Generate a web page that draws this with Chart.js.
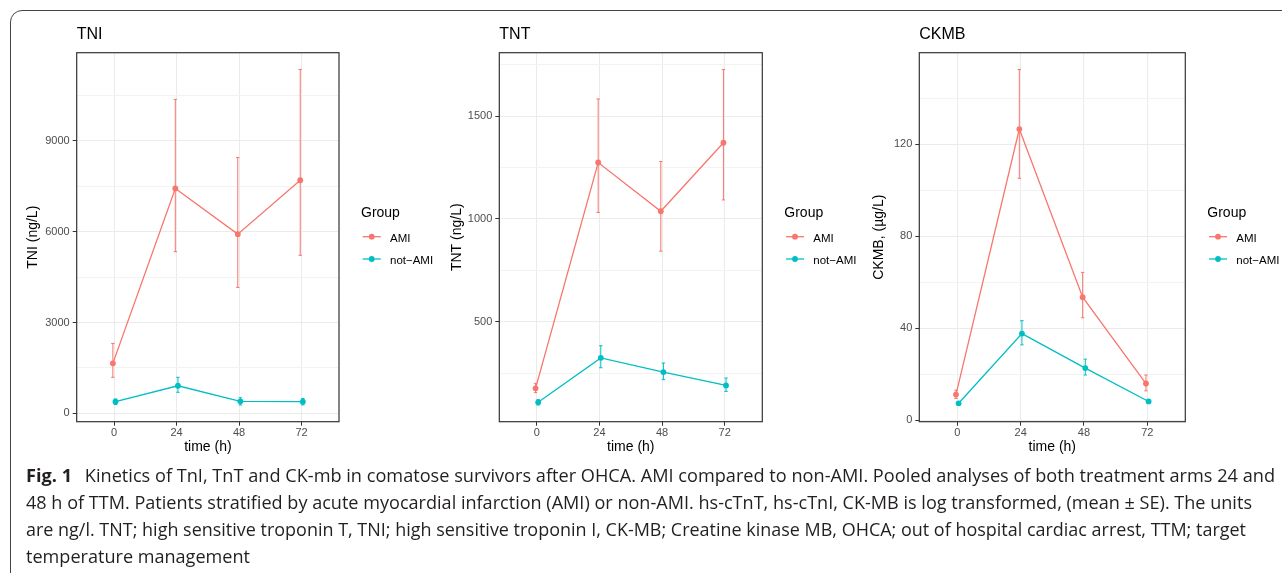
<!DOCTYPE html>
<html>
<head>
<meta charset="utf-8">
<script src="https://cdn.jsdelivr.net/npm/chart.js@4.4.1/dist/chart.umd.min.js"></script>
<style>
  html, body { margin: 0; padding: 0; background: #fff; width: 1282px; height: 573px; overflow: hidden; position: relative; }
  .frame { position: absolute; left: 10px; top: 10px; width: 1300px; height: 620px; border: 1px solid #444; border-radius: 12px; }
  canvas { position: absolute; top: 15px; }
  .caption { position: absolute; left: 26px; top: 462px; font-family: "Open Sans", "Noto Sans", sans-serif; font-size: 18px; line-height: 27px; color: #231f20; }
  .caption div { white-space: nowrap; transform-origin: 0 0; width: max-content; }
  .caption b { font-weight: 700; margin-right: 8px; }
</style>
</head>
<body>
<div class="frame"></div>
<canvas id="tni" width="420" height="450" style="left:15px"></canvas>
<canvas id="tnt" width="420" height="450" style="left:440px"></canvas>
<canvas id="ckmb" width="422" height="450" style="left:860px"></canvas>

<div class="caption">
  <div data-w="1249"><b>Fig. 1</b> Kinetics of TnI, TnT and CK-mb in comatose survivors after OHCA. AMI compared to non-AMI. Pooled analyses of both treatment arms 24 and</div>
  <div data-w="1226">48 h of TTM. Patients stratified by acute myocardial infarction (AMI) or non-AMI. hs-cTnT, hs-cTnI, CK-MB is log transformed, (mean ± SE). The units</div>
  <div data-w="1220">are ng/l. TNT; high sensitive troponin T, TNI; high sensitive troponin I, CK-MB; Creatine kinase MB, OHCA; out of hospital cardiac arrest, TTM; target</div>
  <div data-w="224">temperature management</div>
</div>

<script>
// time points and groups
const times = [0, 24, 48, 72];
const groups = ['AMI', 'not\u2212AMI'];

// TNI (ng/L), mean and error bar ends
const tniAmi   = [1650, 7430, 5920, 7700];
const tniAmiLo = [1190, 5340, 4160, 5220];
const tniAmiHi = [2310, 10370, 8450, 11360];
const tniNot   = [383, 910, 395, 383];
const tniNotLo = [290, 694, 275, 277];
const tniNotHi = [475, 1190, 515, 490];

// TNT (ng/L)
const tntAmi   = [176, 1274, 1037, 1370];
const tntAmiLo = [155, 1031, 843, 1092];
const tntAmiHi = [200, 1583, 1279, 1726];
const tntNot   = [108, 324, 255, 190];
const tntNotLo = [95, 276, 218, 161];
const tntNotHi = [121, 383, 299, 226];

// CKMB (ug/L)
const ckmbAmi   = [11.1, 126.5, 53.4, 15.9];
const ckmbAmiLo = [9.4, 105.1, 44.5, 12.7];
const ckmbAmiHi = [13.0, 152.4, 64.2, 19.6];
const ckmbNot   = [7.3, 37.6, 22.6, 8.1];
const ckmbNotLo = [6.6, 32.7, 19.6, 7.4];
const ckmbNotHi = [8.0, 43.2, 26.5, 8.8];

// tick labels
const xTicks = [0, 24, 48, 72];
const tniTicks = [0, 3000, 6000, 9000];
const tniMinor = [1500, 4500, 7500, 10500];
const tntTicks = [500, 1000, 1500];
const tntMinor = [250, 750, 1250, 1750];
const ckmbTicks = [0, 40, 80, 120];
const ckmbMinor = [20, 60, 100, 140];

const amiColor = '#F8766D';
const notColor = '#00BFC4';
const dodge = 0.5;
const fam = '"Liberation Sans", Arial, Helvetica, sans-serif';

const ggPanel = {
  id: 'ggPanel',
  beforeDatasetsDraw(chart) {
    const ctx = chart.ctx;
    const y = chart.scales.y;
    chart.data.datasets.forEach((ds, di) => {
      const meta = chart.getDatasetMeta(di);
      ctx.save();
      ctx.strokeStyle = ds.borderColor;
      ctx.lineWidth = 1;
      meta.data.forEach((pt, i) => {
        const top = y.getPixelForValue(ds.hi[i]);
        const bot = y.getPixelForValue(ds.lo[i]);
        ctx.beginPath();
        ctx.moveTo(pt.x, top); ctx.lineTo(pt.x, bot);
        ctx.moveTo(pt.x - 1.7, top); ctx.lineTo(pt.x + 1.7, top);
        ctx.moveTo(pt.x - 1.7, bot); ctx.lineTo(pt.x + 1.7, bot);
        ctx.stroke();
      });
      ctx.restore();
    });
  },
  afterDraw(chart, args, opts) {
    const ctx = chart.ctx;
    const a = chart.chartArea;
    ctx.save();
    ctx.strokeStyle = '#333333';
    ctx.lineWidth = 1.2;
    ctx.strokeRect(a.left, a.top, a.right - a.left, a.bottom - a.top);

    ctx.fillStyle = '#000';
    ctx.textAlign = 'left';
    ctx.textBaseline = 'alphabetic';
    ctx.font = '16px ' + fam;
    ctx.fillText(opts.title, a.left, a.top - 13.4);

    // legend
    const cy = (a.top + a.bottom) / 2;
    ctx.font = '14px ' + fam;
    ctx.fillText('Group', a.right + 22, cy - 20);
    ctx.font = '11.5px ' + fam;
    chart.data.datasets.forEach((ds, i) => {
      const ly = cy - 0.5 + i * 22.3;
      ctx.strokeStyle = ds.borderColor;
      ctx.lineWidth = 1.3;
      ctx.beginPath();
      ctx.moveTo(a.right + 23.7, ly); ctx.lineTo(a.right + 41.7, ly);
      ctx.stroke();
      ctx.fillStyle = ds.borderColor;
      ctx.beginPath();
      ctx.arc(a.right + 32.7, ly, 2.9, 0, Math.PI * 2);
      ctx.fill();
      ctx.fillStyle = '#000';
      ctx.fillText(ds.label, a.right + 51, ly + 4.8);
    });
    ctx.restore();
  }
};

function series(label, color, vals, lo, hi, shift) {
  return {
    label: label,
    data: times.map((t, i) => ({x: t + shift, y: vals[i]})),
    lo: lo,
    hi: hi,
    borderColor: color,
    backgroundColor: color,
    borderWidth: 1.3,
    pointRadius: 2.9,
    pointBorderWidth: 0,
    pointBackgroundColor: color,
    tension: 0,
    fill: false
  };
}

function makePanel(id, p) {
  const all = p.major.concat(p.minor).sort((a, b) => a - b);
  new Chart(document.getElementById(id), {
    type: 'line',
    data: {
      datasets: [
        series(groups[0], amiColor, p.ami, p.amiLo, p.amiHi, -dodge),
        series(groups[1], notColor, p.not, p.notLo, p.notHi, dodge)
      ]
    },
    options: {
      responsive: false,
      animation: false,
      layout: { padding: { top: 37.7, right: p.padRight, left: 0, bottom: 0 } },
      plugins: {
        legend: { display: false },
        tooltip: { enabled: false },
        ggPanel: { title: p.title }
      },
      scales: {
        x: {
          type: 'linear',
          min: -14.4,
          max: 86.4,
          afterBuildTicks: s => { s.ticks = xTicks.map(v => ({value: v})); },
          afterFit: s => { s.height = 43.3; },
          border: { display: false },
          grid: { color: '#EBEBEB', tickColor: '#333333', tickLength: 4, lineWidth: 1 },
          ticks: { color: '#4D4D4D', font: { size: 11, family: fam }, padding: 1, maxRotation: 0, autoSkip: false },
          title: { display: true, text: 'time (h)', color: '#000', font: { size: 14, family: fam }, padding: { top: 0, bottom: 9.6 } }
        },
        y: {
          type: 'linear',
          min: p.min,
          max: p.max,
          afterBuildTicks: s => { s.ticks = all.map(v => ({value: v})); },
          afterFit: s => { s.width = p.yWidth; },
          border: { display: false },
          grid: {
            color: c => p.major.includes(c.tick.value) ? '#EBEBEB' : '#F3F3F3',
            tickColor: c => p.major.includes(c.tick.value) ? '#333333' : 'rgba(0,0,0,0)',
            tickLength: 4,
            lineWidth: 1
          },
          ticks: {
            color: '#4D4D4D',
            font: { size: 11, family: fam },
            padding: 3,
            autoSkip: false,
            callback: v => p.major.includes(v) ? String(v) : ''
          },
          title: { display: true, text: p.yTitle, color: '#000', font: { size: 14, family: fam }, padding: { top: p.yTitlePad, bottom: 0 } }
        }
      }
    },
    plugins: [ggPanel]
  });
}

makePanel('tni', {
  title: 'TNI', yTitle: 'TNI (ng/L)', yTitlePad: 9.6, yWidth: 61.7, padRight: 96,
  min: -277, max: 11914, major: tniTicks, minor: tniMinor,
  ami: tniAmi, amiLo: tniAmiLo, amiHi: tniAmiHi, not: tniNot, notLo: tniNotLo, notHi: tniNotHi
});
makePanel('tnt', {
  title: 'TNT', yTitle: 'TNT (ng/L)', yTitlePad: 8.3, yWidth: 59.3, padRight: 97.7,
  min: 13.6, max: 1808, major: tntTicks, minor: tntMinor,
  ami: tntAmi, amiLo: tntAmiLo, amiHi: tntAmiHi, not: tntNot, notLo: tntNotLo, notHi: tntNotHi
});
makePanel('ckmb', {
  title: 'CKMB', yTitle: 'CKMB, (\u00b5g/L)', yTitlePad: 10.9, yWidth: 59.3, padRight: 96.7,
  min: -0.7, max: 159.7, major: ckmbTicks, minor: ckmbMinor,
  ami: ckmbAmi, amiLo: ckmbAmiLo, amiHi: ckmbAmiHi, not: ckmbNot, notLo: ckmbNotLo, notHi: ckmbNotHi
});

// squeeze caption lines to the widths of the printed figure
document.querySelectorAll('.caption div').forEach(d => {
  const w = d.getBoundingClientRect().width;
  d.style.transform = 'scaleX(' + (parseFloat(d.dataset.w) / w) + ')';
});
</script>
</body>
</html>
